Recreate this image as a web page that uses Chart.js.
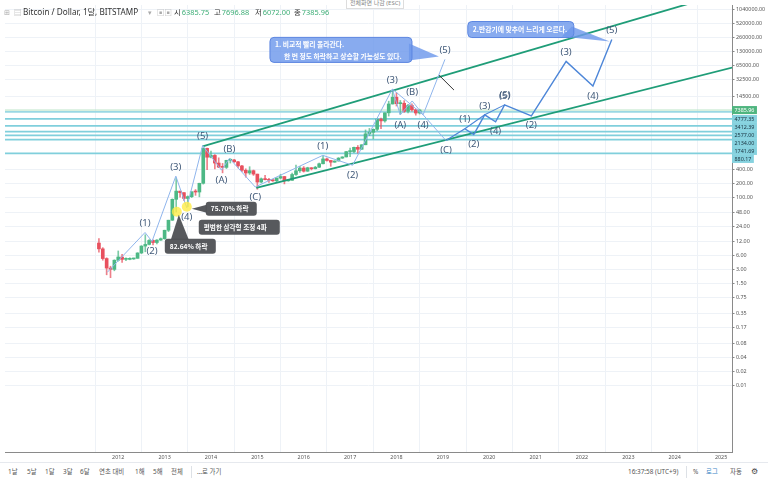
<!DOCTYPE html>
<html>
<head>
<meta charset="utf-8">
<script src="https://cdn.jsdelivr.net/npm/chart.js@4.4.1/dist/chart.umd.min.js"></script>
<style>
html,body{margin:0;padding:0;background:#fff;}
#wrap{position:relative;width:768px;height:480px;overflow:hidden;font-family:"Noto Sans","Noto Sans CJK KR",sans-serif;}
#c{position:absolute;left:0;top:0;}
.ov{position:absolute;white-space:nowrap;pointer-events:none;}
#hdr span{position:absolute;top:7px;font-size:7.4px;color:#333;line-height:10px;white-space:nowrap;}
#hdr .g{color:#3fae77;font-weight:normal;margin-left:1px;}
#hdr .ic{color:#aaa;}
#esc{left:346px;top:-2px;font-size:6px;color:#888;border:1px solid #ddd;padding:0 3px;line-height:9px;background:#fff;}
#bar{left:0;top:462px;width:768px;height:18px;border-top:1px solid #e6e9ee;background:#fff;}
#bar span{position:absolute;top:4px;font-size:6.4px;color:#555;line-height:10px;white-space:nowrap;}
#bar .sep{top:3px;width:1px;height:12px;background:#dde1e6;}
</style>
</head>
<body>
<div id="wrap">
<canvas id="c" width="768" height="480"></canvas>
<div id="hdr" class="ov" style="left:0;top:0;width:440px;height:22px;">
  <span class="ic" style="left:4px;">⊞</span>
  <span class="ic" style="left:14px;">▤</span>
  <span style="left:23px;font-size:8.2px;">Bitcoin / Dollar, 1달, BITSTAMP</span>
  <span class="ic" style="left:148px;">▾</span>
  <span class="ic" style="left:157px;">▣▣</span>
  <span style="left:174px;">시<b class="g">6385.75</b></span>
  <span style="left:214px;">고<b class="g">7696.88</b></span>
  <span style="left:255px;">저<b class="g">6072.00</b></span>
  <span style="left:294px;">종<b class="g">7385.96</b></span>
</div>
<div id="esc" class="ov">전체화면 나감 (ESC)</div>
<div id="bar" class="ov">
  <span style="left:8px;">1날</span>
  <span style="left:27px;">5날</span>
  <span style="left:45px;">1달</span>
  <span style="left:63px;">3달</span>
  <span style="left:80px;">6달</span>
  <span style="left:99px;">연초 대비</span>
  <span style="left:135px;">1해</span>
  <span style="left:153px;">5해</span>
  <span style="left:171px;">전체</span>
  <span class="sep" style="left:191px;"></span>
  <span style="left:197px;">…로 가기</span>
  <span style="left:628px;">16:37:58 (UTC+9)</span>
  <span class="sep" style="left:686px;"></span>
  <span style="left:693px;">%</span>
  <span style="left:706px;color:#3d85c6;">로그</span>
  <span style="left:730px;">자동</span>
  <span style="left:751px;font-size:8px;top:3px;color:#444;">⚙</span>
</div>
</div>
<script>
// ---------- data ----------
const months = [
 '2011-08','2011-09','2011-10','2011-11','2011-12',
 '2012-01','2012-02','2012-03','2012-04','2012-05','2012-06','2012-07','2012-08','2012-09','2012-10','2012-11','2012-12',
 '2013-01','2013-02','2013-03','2013-04','2013-05','2013-06','2013-07','2013-08','2013-09','2013-10','2013-11','2013-12',
 '2014-01','2014-02','2014-03','2014-04','2014-05','2014-06','2014-07','2014-08','2014-09','2014-10','2014-11','2014-12',
 '2015-01','2015-02','2015-03','2015-04','2015-05','2015-06','2015-07','2015-08','2015-09','2015-10','2015-11','2015-12',
 '2016-01','2016-02','2016-03','2016-04','2016-05','2016-06','2016-07','2016-08','2016-09','2016-10','2016-11','2016-12',
 '2017-01','2017-02','2017-03','2017-04','2017-05','2017-06','2017-07','2017-08','2017-09','2017-10','2017-11','2017-12',
 '2018-01','2018-02','2018-03','2018-04','2018-05','2018-06','2018-07'
];
const openP = [
 10.9, 8.2, 5.1, 3.2, 3.0,
 4.7, 5.5, 4.9, 4.9, 5.0, 5.15, 6.7, 9.4, 10.2, 12.4, 11.2, 12.6,
 13.5, 20.4, 33.4, 93, 139, 129, 97, 106, 135, 133, 204, 1130,
 732, 800, 550, 450, 445, 630, 640, 585, 478, 386, 338, 378,
 320, 217, 254, 244, 236, 230, 263, 284, 230, 236, 314, 377,
 430, 369, 437, 416, 448, 531, 673, 624, 574, 609, 700, 742,
 963, 965, 1190, 1080, 1348, 2300, 2480, 2875, 4735, 4340, 6450, 9950,
 13850, 10100, 10300, 6930, 9250, 7500, 6385.75
];
const highP = [
 13.5, 8.7, 5.3, 3.5, 4.8,
 7.4, 6.3, 5.3, 5.3, 5.2, 6.8, 9.6, 16.4, 12.9, 12.8, 12.9, 14.0,
 20.5, 33.4, 95, 266, 140, 130, 110, 135, 150, 205, 1163, 1150,
 990, 830, 710, 540, 630, 680, 660, 600, 490, 415, 460, 390,
 320, 265, 300, 260, 247, 268, 318, 285, 248, 335, 500, 470,
 463, 448, 440, 468, 550, 780, 700, 625, 612, 720, 750, 975,
 1150, 1200, 1300, 1350, 2790, 3000, 2930, 4800, 4980, 6450, 11400, 19666,
 17250, 11800, 11700, 9750, 9980, 7770, 7696.88
];
const lowP = [
 7.0, 4.7, 2.3, 2.0, 2.8,
 4.5, 4.2, 4.6, 4.8, 4.9, 5.2, 6.5, 7.1, 10.0, 10.0, 10.5, 12.4,
 13.1, 19.1, 33.0, 50, 103, 88, 65, 101, 113, 105, 196, 400,
 710, 410, 440, 340, 420, 550, 570, 435, 360, 275, 315, 300,
 152, 208, 240, 214, 224, 216, 252, 198, 225, 235, 300, 348,
 354, 365, 392, 412, 440, 525, 600, 470, 570, 605, 690, 740,
 750, 910, 890, 1070, 1345, 2100, 1800, 2680, 2980, 4100, 5500, 9900,
 9000, 6000, 6600, 6430, 7030, 5750, 6072
];
const closeP = [
 8.2, 5.1, 3.2, 3.0, 4.7,
 5.5, 4.9, 4.9, 5.0, 5.15, 6.7, 9.4, 10.2, 12.4, 11.2, 12.6, 13.5,
 20.4, 33.4, 93, 139, 129, 97, 106, 135, 133, 204, 1130, 732,
 800, 550, 450, 445, 630, 640, 585, 478, 386, 338, 378, 320,
 217, 254, 244, 236, 230, 263, 284, 230, 236, 314, 377, 430,
 369, 437, 416, 448, 531, 673, 624, 574, 609, 700, 742, 963,
 965, 1190, 1080, 1348, 2300, 2480, 2875, 4735, 4340, 6450, 9950, 13850,
 10100, 10300, 6930, 9250, 7500, 6385.75, 7385.96
];

const yTicks = [1040000, 520000, 260000, 130000, 65000, 32500, 14500, 400, 200, 100, 48, 24, 12, 6, 3, 1.5, 0.75, 0.35, 0.17, 0.08, 0.04, 0.02, 0.01];
const xTicks = [2012, 2013, 2014, 2015, 2016, 2017, 2018, 2019, 2020, 2021, 2022, 2023, 2024, 2025];

const lastPrice = 7385.96;
const levels = [4777.35, 3412.39, 2577.00, 2134.00, 1741.69, 880.17];
const extraLevels = [6770];

// Elliott wave counts (time as decimal year, price)
const histX = [2011.764, 2012.578, 2012.728, 2013.242, 2013.477, 2013.820, 2014.227, 2014.398, 2014.955, 2016.412, 2017.054, 2017.911, 2018.082, 2018.339, 2018.575, 2019.046];
const histY = [2.6, 18.3, 11.8, 290, 61.5, 1300, 388, 693, 170, 802, 494, 20670, 5850, 11550, 5850, 88500];
const histLabels = ['', '(1)', '(2)', '(3)', '(4)', '(5)', '(A)', '(B)', '(C)', '(1)', '(2)', '(3)', '(A)', '(B)', '(4)', '(5)'];
const histSide = ['', 'a', 'b', 'a', 'b', 'a', 'b', 'a', 'b', 'a', 'b', 'a', 'b', 'a', 'b', 'a'];
const altX = [2017.911, 2018.575, 2019.068];
const altY = [20670, 5850, 1659];

const projX = [2019.068, 2019.475, 2019.667, 2019.903, 2020.138, 2020.331, 2020.909, 2021.659, 2022.237, 2022.644];
const projY = [1659, 2960, 2220, 5850, 4160, 9520, 5580, 80300, 23900, 234000];
const projLabels = ['(C)', '(1)', '(2)', '(3)', '(4)', '(5)', '(2)', '(3)', '(4)', '(5)'];
const projSide = ['b', 'a', 'b', 'a', 'b', 'a', 'b', 'a', 'b', 'a'];
const subX = [2019.475, 2019.903, 2020.331];
const subY = [2960, 5850, 9520];

const upperChannelX = [2013.82, 2025.3];
const upperChannelY = [1250, 2630000];
const lowerChannelX = [2014.977, 2025.3];
const lowerChannelY = [162.5, 61300];

const blackLineX = [2018.918, 2019.24];
const blackLineY = [40800, 19700];

const markerX = [2013.263, 2013.478];
const markerY = [50.7, 64.6];

// ---------- build ----------
const toYear = m => { const [a, b] = m.split('-').map(Number); return a + (b - 1) / 12; };
const candleX = months.map(toYear);
const UP = '#4db885', DOWN = '#e8505e';
const cColors = closeP.map((c, i) => c >= openP[i] ? UP : DOWN);
const pts = (xs, ys) => xs.map((x, i) => ({x, y: ys[i]}));
const X0 = 2009.558, X1 = 2025.236;
const hline = (v, color, w) => ({type: 'line', data: [{x: X0 - 1, y: v}, {x: X1 + 1, y: v}], borderColor: color, borderWidth: w, pointRadius: 0, order: 10});

const datasets = [
  ...extraLevels.map(v => hline(v, '#9ad8e3', 1.6)),
  ...levels.map(v => hline(v, '#80cfdc', 1.8)),
  hline(lastPrice, '#b6e2c3', 1),
  {type: 'bar', data: candleX.map((x, i) => ({x, y: [lowP[i], highP[i]]})), backgroundColor: cColors.map(c => c + 'bb'), barThickness: 1, grouped: false, order: 6},
  {type: 'bar', data: candleX.map((x, i) => ({x, y: [Math.min(openP[i], closeP[i]), Math.max(openP[i], closeP[i])]})), backgroundColor: cColors, barThickness: 3, minBarLength: 1, grouped: false, order: 5},
  {type: 'line', data: pts(upperChannelX, upperChannelY), borderColor: '#1f9d78', borderWidth: 1.8, pointRadius: 0, order: 3},
  {type: 'line', data: pts(lowerChannelX, lowerChannelY), borderColor: '#1f9d78', borderWidth: 1.8, pointRadius: 0, order: 3},
  {type: 'line', data: pts(histX, histY), borderColor: '#8fb5ec', borderWidth: 1, pointRadius: 0, order: 2},
  {type: 'line', data: pts(altX, altY), borderColor: '#8fb5ec', borderWidth: 1, pointRadius: 0, order: 2},
  {type: 'line', data: pts(projX, projY), borderColor: '#4d86d8', borderWidth: 1.4, pointRadius: 0, order: 2},
  {type: 'line', data: pts(subX, subY), borderColor: '#4d86d8', borderWidth: 1.1, pointRadius: 0, order: 2},
  {type: 'line', data: pts(blackLineX, blackLineY), borderColor: '#333', borderWidth: 1, pointRadius: 0, order: 2},
  {type: 'line', data: pts(markerX, markerY), showLine: false, pointRadius: 5, pointBackgroundColor: 'rgba(255,236,70,0.8)', pointBorderWidth: 0, order: 1}
];

function rr(ctx, x, y, w, h, r) {
  ctx.beginPath();
  ctx.moveTo(x + r, y); ctx.lineTo(x + w - r, y); ctx.quadraticCurveTo(x + w, y, x + w, y + r);
  ctx.lineTo(x + w, y + h - r); ctx.quadraticCurveTo(x + w, y + h, x + w - r, y + h);
  ctx.lineTo(x + r, y + h); ctx.quadraticCurveTo(x, y + h, x, y + h - r);
  ctx.lineTo(x, y + r); ctx.quadraticCurveTo(x, y, x + r, y); ctx.closePath();
}
function tri(ctx, p) { ctx.beginPath(); ctx.moveTo(p[0], p[1]); ctx.lineTo(p[2], p[3]); ctx.lineTo(p[4], p[5]); ctx.closePath(); }

const overlay = {
  id: 'overlay',
  afterDatasetsDraw(chart) {
    const {ctx, scales: {x, y}} = chart;
    ctx.save();
    ctx.font = '9.5px "Noto Sans", sans-serif';
    ctx.fillStyle = '#3f5878';
    ctx.textAlign = 'center'; ctx.textBaseline = 'middle';
    const lab = (xs, ys, ls, ss) => ls.forEach((t, i) => {
      if (!t) return;
      const px = x.getPixelForValue(xs[i]), py = y.getPixelForValue(ys[i]) + (ss[i] === 'a' ? -9 : 10);
      ctx.fillText(t, px, py);
    });
    lab(histX, histY, histLabels, histSide);
    lab(projX, projY, projLabels, projSide);
    ctx.fillText('(5)', x.getPixelForValue(projX[5]) + 0.6, y.getPixelForValue(projY[5]) - 9.5);

    // blue callouts
    const blueFill = 'rgba(110,152,236,0.82)', blueLine = '#5a85e0';
    let tx = x.getPixelForValue(histX[15]), ty = y.getPixelForValue(histY[15]);
    let bx = tx - 175, by = ty - 22, bw = 142, bh = 25;
    ctx.fillStyle = blueFill; ctx.strokeStyle = blueLine; ctx.lineWidth = 1;
    tri(ctx, [bx + bw - 3, by + 6, tx - 6, ty - 3, bx + bw - 3, by + bh - 2]); ctx.fill();
    rr(ctx, bx, by, bw, bh, 4); ctx.fill(); ctx.stroke();
    ctx.fillStyle = '#fff'; ctx.textAlign = 'left';
    ctx.font = 'bold 6.8px "Noto Sans CJK KR", sans-serif';
    ctx.fillText('1. 비교적 빨리 올라간다.', bx + 5, by + 7);
    ctx.fillText('한 번 정도 하락하고 상승할 가능성도 있다.', bx + 14, by + 19);
    tx = x.getPixelForValue(projX[9]); ty = y.getPixelForValue(projY[9]);
    bx = tx - 144; by = ty - 18; bw = 106; bh = 16;
    ctx.fillStyle = blueFill;
    tri(ctx, [bx + bw - 12, by + bh - 1, bx + bw - 2, by + 5, tx - 2, ty + 2]); ctx.fill();
    rr(ctx, bx, by, bw, bh, 4); ctx.fill(); ctx.stroke();
    ctx.fillStyle = '#fff';
    ctx.fillText('2.반감기에 맞추어 느리게 오른다.', bx + 5, by + 8);

    // dark callouts anchored at yellow markers
    const dark = 'rgba(78,80,84,0.95)';
    const ax = x.getPixelForValue(markerX[0]), ay = y.getPixelForValue(markerY[0]);
    const cx = x.getPixelForValue(markerX[1]), cy = y.getPixelForValue(markerY[1]);
    ctx.fillStyle = dark;
    bx = cx + 19; by = cy - 5; bw = 51; bh = 14;
    tri(ctx, [bx + 1, by + 3, cx + 5, cy + 2, bx + 1, by + bh - 3]); ctx.fill();
    rr(ctx, bx, by, bw, bh, 3); ctx.fill();
    ctx.fillStyle = '#fff'; ctx.font = 'bold 6.6px "Noto Sans CJK KR", sans-serif';
    ctx.fillText('75.70% 하락', bx + 5, by + 7);
    ctx.fillStyle = dark;
    bx = cx + 12; by = cy + 13; bw = 81; bh = 15;
    rr(ctx, bx, by, bw, bh, 3); ctx.fill();
    ctx.fillStyle = '#fff';
    ctx.fillText('평범한 삼각형 조정 4파', bx + 5, by + 7.5);
    ctx.fillStyle = dark;
    bx = ax - 12; by = ay + 27; bw = 51; bh = 15;
    tri(ctx, [ax + 2, ay + 3, bx + 6, by + 1, bx + 24, by + 1]); ctx.fill();
    rr(ctx, bx, by, bw, bh, 3); ctx.fill();
    ctx.fillStyle = '#fff';
    ctx.fillText('82.64% 하락', bx + 5, by + 7.5);
    ctx.restore();
  },
  afterDraw(chart) {
    const {ctx, scales: {y}, chartArea} = chart;
    ctx.save();
    ctx.font = '5.4px "Noto Sans", sans-serif';
    ctx.textBaseline = 'middle'; ctx.textAlign = 'left';
    const tags = [{v: lastPrice, bg: '#4fb57f', fg: '#fff'}, ...levels.map(v => ({v, bg: '#86d2df', fg: '#1b3440'}))];
    let prev = -100;
    tags.forEach(t => {
      let py = y.getPixelForValue(t.v);
      if (py < prev + 8) py = prev + 8;
      prev = py;
      const txt = t.v.toFixed(2);
      const w = ctx.measureText(txt).width + 5;
      ctx.fillStyle = t.bg;
      ctx.fillRect(chartArea.right, py - 4, w, 8);
      ctx.fillStyle = t.fg;
      ctx.fillText(txt, chartArea.right + 2.5, py + 0.3);
    });
    ctx.restore();
  }
};

Chart.defaults.font.family = '"Noto Sans", "Noto Sans CJK KR", sans-serif';
new Chart(document.getElementById('c'), {
  type: 'bar',
  data: {datasets},
  plugins: [overlay],
  options: {
    responsive: false, animation: false, devicePixelRatio: 1,
    layout: {padding: {left: 0, right: 0, top: 0, bottom: 18}},
    plugins: {legend: {display: false}, tooltip: {enabled: false}},
    scales: {
      x: {
        type: 'linear', position: 'bottom', min: X0, max: X1, offset: false,
        afterBuildTicks: s => { s.ticks = xTicks.map(v => ({value: v})); },
        afterFit: s => { s.height = 10; },
        ticks: {callback: v => String(v), font: {size: 5.4}, color: '#555', padding: 2, maxRotation: 0, autoSkip: false},
        grid: {color: '#eef2f7', drawTicks: false},
        border: {display: true, color: '#8a8a8a', width: 1}
      },
      y: {
        type: 'logarithmic', position: 'right', min: 0.000389, max: 1272000,
        afterBuildTicks: s => { s.ticks = yTicks.map(v => ({value: v})); },
        afterFit: s => { s.width = 36; },
        ticks: {callback: v => Number(v).toFixed(2), font: {size: 5.4}, color: '#555', padding: 1.5, autoSkip: false},
        grid: {color: '#eef2f7', tickLength: 2.5, tickColor: '#888'},
        border: {display: true, color: '#8a8a8a', width: 1}
      }
    }
  }
});
</script>
</body>
</html>
